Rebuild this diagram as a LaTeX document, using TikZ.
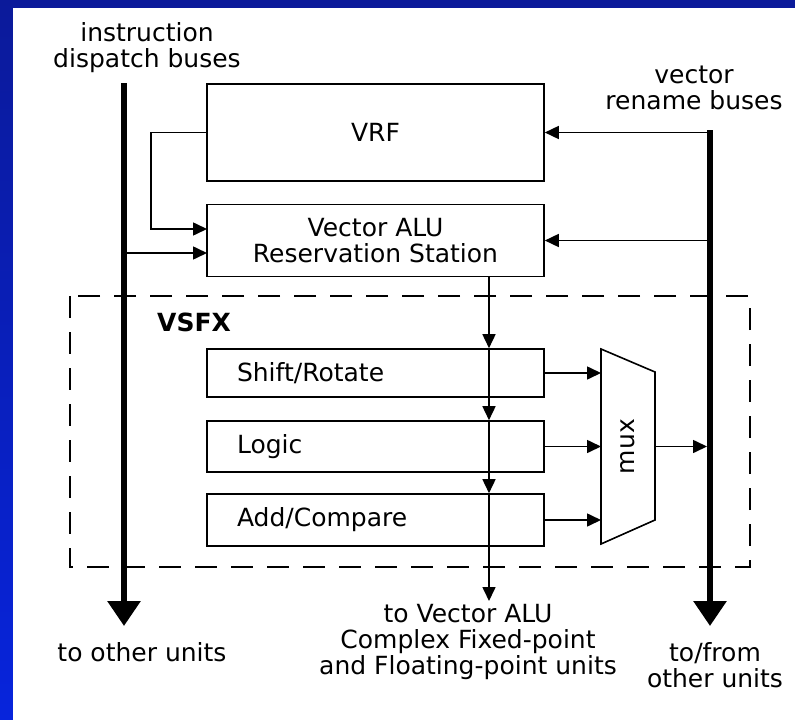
\documentclass[tikz,border=0pt]{standalone}
\usepackage{fontspec}
\setmainfont{DejaVu Sans}
\usepackage{tikz}
\usetikzlibrary{arrows.meta}

\begin{document}
\begin{tikzpicture}[x=1pt,y=-1pt,
  font=\fontsize{25}{26}\selectfont,
  unit/.style={draw,line width=1.6pt,minimum width=337pt,inner sep=0pt},
  stage/.style={unit,text width=277pt,inner xsep=30pt,align=left},
  bus/.style={line width=6pt,-{Triangle[length=25pt,width=32pt]}},
  sig/.style={line width=1.6pt,-{Triangle[length=14pt,width=13pt]}},
  vsfxbox/.style={line width=1.5pt,dash pattern=on 22pt off 14pt},
  lbl/.style={align=center,inner sep=0pt}]
\definecolor{slideTop}{HTML}{0B1A9A}
\definecolor{slideLow}{HTML}{0724DC}
\useasboundingbox (0,0) rectangle (795,720);
\shade[top color=slideTop,bottom color=slideLow] (0,0) rectangle (795,720);
\fill[white] (13,8) rectangle (795,720);
% register file and reservation station
\node[unit,minimum height=97pt] (vrf) at (375.5,132.5) {VRF};
\node[unit,minimum height=72pt,align=center] (rs) at (375.5,240.5) {Vector ALU\\Reservation Station};
% VSFX unit
\draw[vsfxbox] (70,296) rectangle (750,567);
\node[anchor=west,inner sep=0pt] (vsfx) at (157,322) {\bfseries VSFX};
\node[stage,minimum height=48pt] (shift) at (375.5,373) {Shift/Rotate};
\node[stage,minimum height=51pt] (logic) at (375.5,446.5) {Logic};
\node[stage,minimum height=52pt] (addcmp) at (375.5,520) {Add/Compare};
\draw[line width=1.6pt] (601,349) -- (655,372) -- (655,520) -- (601,544) -- cycle;
\node[rotate=90] (mux) at (628,446.5) {mux};
\coordinate (muxIn) at (601,446);
\coordinate (muxOut) at (655,446.5);
% buses
\coordinate (ibTop) at (124,83);
\coordinate (ibEnd) at (124,626);
\coordinate (rbTop) at (710,130);
\coordinate (rbEnd) at (710,626);
\draw[bus] (ibTop) -- (ibEnd);
\draw[bus] (rbTop) -- (rbEnd);
% connections
\coordinate (rsInA) at (207,229);
\coordinate (rsInB) at (207,253);
\coordinate (aluOut) at (489,601);
\draw[sig] (vrf.west) -- ++(-55,0) |- (rsInA);
\draw[sig] (ibTop |- rsInB) -- (rsInB);
\draw[sig] (rbTop |- vrf.east) -- (vrf.east);
\draw[sig] (rbTop |- rs.east) -- (rs.east);
\foreach \a/\b in {rs.south/shift.north,shift.north/logic.north,logic.north/addcmp.north,addcmp.north/aluOut}
  \draw[sig] (aluOut |- \a) -- (aluOut |- \b);
\foreach \s in {shift,logic,addcmp}
  \draw[sig] (\s.east) -- (\s.east -| muxIn);
\draw[sig,shorten >=3pt] (muxOut) -- (rbTop |- muxOut);
% labels
\node[lbl] (dispLbl) at (147,48) {instruction\\dispatch buses};
\node[lbl] (renLbl) at (694,88) {vector\\rename buses};
\node[lbl] (otherLbl) at (142,652) {to other units};
\node[lbl] (cplxLbl) at (468,642) {to Vector ALU\\Complex Fixed-point\\and Floating-point units};
\node[lbl] (fromLbl) at (715,665) {to/from\\other units};
\end{tikzpicture}
\end{document}
